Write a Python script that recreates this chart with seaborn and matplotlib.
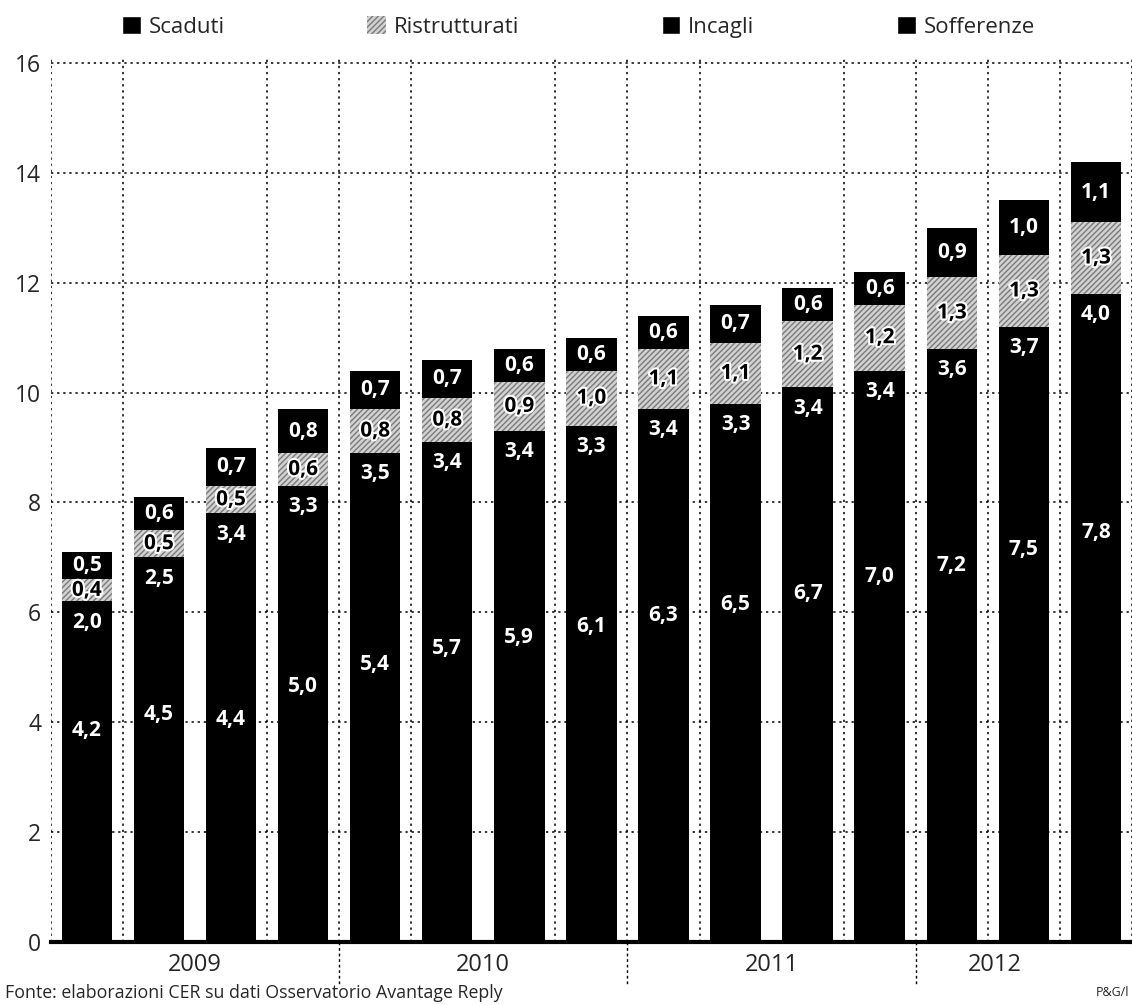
import numpy as np
import pandas as pd
import matplotlib
matplotlib.use("Agg")
import matplotlib.pyplot as plt
import matplotlib.patheffects as pe
from matplotlib.patches import Patch
import seaborn as sns

# Quarterly values (billions), one bar per quarter
quarters = ["I-09", "II-09", "III-09", "IV-09",
            "I-10", "II-10", "III-10", "IV-10",
            "I-11", "II-11", "III-11", "IV-11",
            "I-12", "II-12", "III-12"]
sofferenze = [4.2, 4.5, 4.4, 5.0, 5.4, 5.7, 5.9, 6.1, 6.3, 6.5, 6.7, 7.0, 7.2, 7.5, 7.8]
incagli = [2.0, 2.5, 3.4, 3.3, 3.5, 3.4, 3.4, 3.3, 3.4, 3.3, 3.4, 3.4, 3.6, 3.7, 4.0]
ristrutturati = [0.4, 0.5, 0.5, 0.6, 0.8, 0.8, 0.9, 1.0, 1.1, 1.1, 1.2, 1.2, 1.3, 1.3, 1.3]
scaduti = [0.5, 0.6, 0.7, 0.8, 0.7, 0.7, 0.6, 0.6, 0.6, 0.7, 0.6, 0.6, 0.9, 1.0, 1.1]
years = ["2009", "2010", "2011", "2012"]
series_names = ["Scaduti", "Ristrutturati", "Incagli", "Sofferenze"]

df = pd.DataFrame({"trimestre": quarters,
                   "Sofferenze": sofferenze, "Incagli": incagli,
                   "Ristrutturati": ristrutturati, "Scaduti": scaduti})
df["top_sof"] = df["Sofferenze"]
df["top_inc"] = df["top_sof"] + df["Incagli"]
df["top_ris"] = df["top_inc"] + df["Ristrutturati"]
df["top_sca"] = df["top_ris"] + df["Scaduti"]

sns.set_theme(style="white")
plt.rcParams["font.family"] = ["Open Sans", "DejaVu Sans"]
plt.rcParams["hatch.linewidth"] = 1.0

fig = plt.figure(figsize=(11.32, 10.05), dpi=100)
ax = fig.add_axes([50.8 / 1132, 63 / 1005, (1132 - 50.8) / 1132, (942 - 57.5) / 1005])

HATCH_FACE = "#d2d2d2"
HATCH_LINE = "#7a7a7a"
common = dict(data=df, x="trimestre", order=quarters, ax=ax, width=0.7,
              linewidth=0, saturation=1, errorbar=None)
# stacked look: draw cumulative totals from the top layer down
sns.barplot(y="top_sca", color="black", **common)
sns.barplot(y="top_ris", color=HATCH_FACE, hatch="//////", edgecolor=HATCH_LINE, **common)
sns.barplot(y="top_inc", color="black", **common)
sns.barplot(y="top_sof", color="black", **common)

def fmt(v):
    return f"{v:.1f}".replace(".", ",")

lab_kw = dict(ha="center", va="center", fontsize=15, fontweight="bold", zorder=5)
halo = [pe.withStroke(linewidth=3, foreground="white")]
for i, row in df.iterrows():
    ax.text(i, (row.top_ris + row.top_sca) / 2, fmt(row.Scaduti), color="white", **lab_kw)
    ax.text(i, (row.top_inc + row.top_ris) / 2, fmt(row.Ristrutturati), color="black",
            path_effects=halo, **lab_kw)
    ax.text(i, row.top_inc - 0.38, fmt(row.Incagli), color="white", **lab_kw)
    ax.text(i, row.top_sof - 0.35, fmt(row.Sofferenze), color="white", **lab_kw)

# axes, grid and ticks
ax.set_xlim(-0.5, 14.43)
ax.set_ylim(0, 16.1)
ax.set_yticks(range(0, 17, 2))
ax.set_xticks([1.5, 5.5, 9.5, 12.6])
ax.set_xticklabels(years)
ax.set_xticks(np.arange(-0.5, 15, 1.0), minor=True)
ax.set_xlabel("")
ax.set_ylabel("")
ax.set_axisbelow(True)
grid_kw = dict(color="black", linestyle=(0, (1.5, 2.5)), linewidth=1.1)
ax.grid(axis="y", which="major", **grid_kw)
ax.grid(axis="x", which="minor", **grid_kw)
ax.grid(axis="x", which="major", visible=False)
ax.tick_params(axis="both", which="both", length=0)
ax.tick_params(axis="y", labelsize=16.5, pad=7)
ax.tick_params(axis="x", labelsize=17, pad=8)
for side in ["top", "right", "left"]:
    ax.spines[side].set_visible(False)
ax.spines["bottom"].set_color("black")
ax.spines["bottom"].set_linewidth(3)

# year separators below the axis
xt = ax.get_xaxis_transform()
for b in [3.5, 7.5, 11.5]:
    ax.plot([b, b], [0, -0.048], transform=xt, clip_on=False, color="black",
            linestyle=(0, (2, 2)), linewidth=1)

# legend
handles = [Patch(facecolor="black"),
           Patch(facecolor=HATCH_FACE, hatch="//////", edgecolor=HATCH_LINE, linewidth=0),
           Patch(facecolor="black"),
           Patch(facecolor="black")]
fig.legend(handles, series_names, loc="center", bbox_to_anchor=(0.511, 0.973), ncol=4,
           frameon=False, fontsize=16, handlelength=0.85, handleheight=0.85,
           handletextpad=0.35, columnspacing=6.4)

fig.text(0.004, 0.012, "Fonte: elaborazioni CER su dati Osservatorio Avantage Reply",
         fontsize=12.8, ha="left", va="center")
fig.text(0.998, 0.012, "P&G/l", fontsize=9, ha="right", va="center")

fig.savefig("out.png", dpi=100)
